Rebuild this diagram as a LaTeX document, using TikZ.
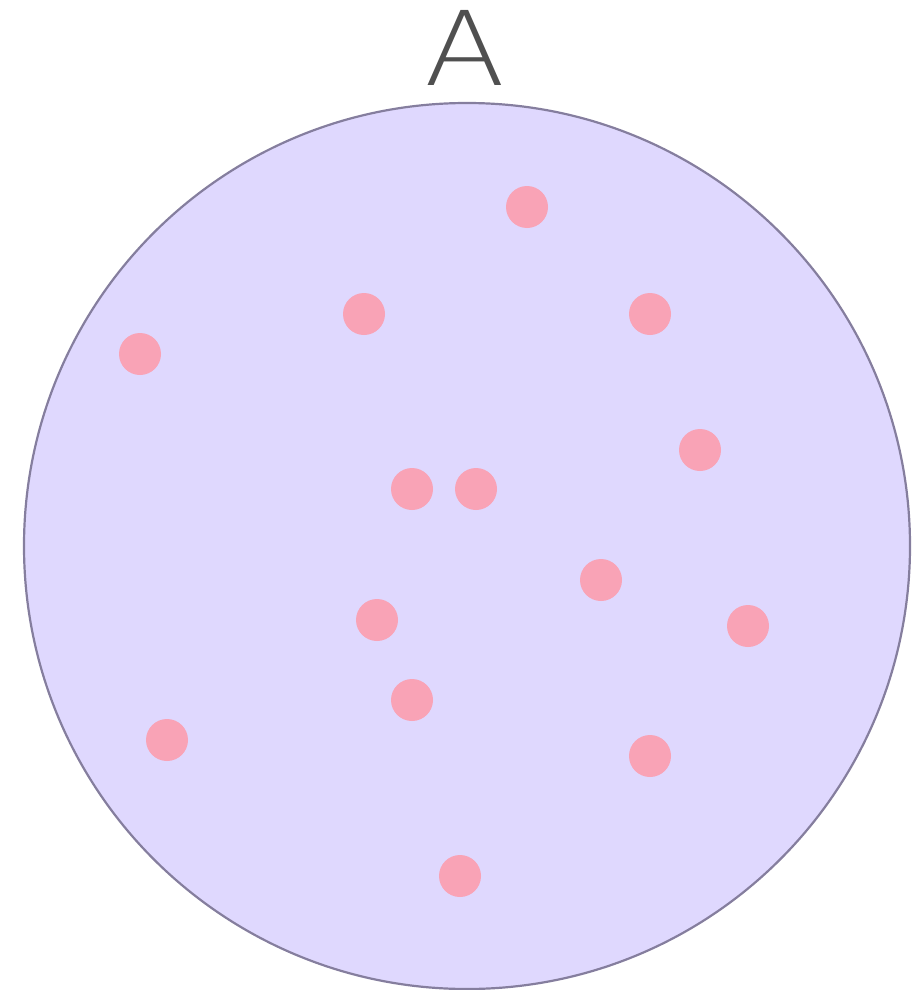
\documentclass[tikz,border=0pt]{standalone}
\usepackage{fontspec}
\newfontfamily\thinfont{DejaVu Sans ExtraLight}
\definecolor{circfill}{HTML}{DFD8FE}
\definecolor{circline}{HTML}{857E9E}
\definecolor{dotc}{HTML}{F9A3B6}
\definecolor{labc}{HTML}{505050}
\begin{document}
\begin{tikzpicture}[x=1pt,y=-1pt,
  dotn/.style={circle,fill=dotc,draw=none,minimum size=42pt,inner sep=0pt},
  bigc/.style={circle,fill=circfill,draw=circline,line width=2.2pt,minimum size=886pt,inner sep=0pt}]
\useasboundingbox (0,0) rectangle (911,990);
\node[bigc] (set) at (467,546) {};
\node[text=labc,font=\thinfont\fontsize{103}{103}\selectfont,anchor=base,inner sep=0pt,xscale=1.15,transform shape] (lab) at (465,85) {A};
\foreach \p/\x/\y in {d1/527/207,d2/364/314,d3/650/314,d4/140/354,d5/700/450,d6/412/489,d7/476/489,d8/601/580,d9/748/626,d10/377/620,d11/412/700,d12/167/740,d13/650/756,d14/460/876}
  \node[dotn] (\p) at (\x,\y) {};
\end{tikzpicture}
\end{document}
